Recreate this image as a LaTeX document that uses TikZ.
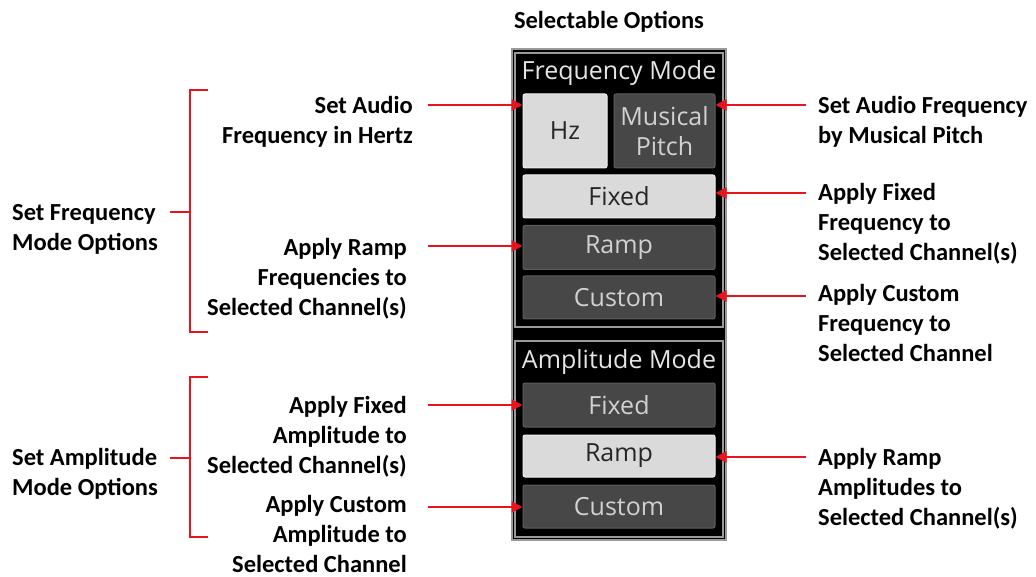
\documentclass[tikz,border=0pt]{standalone}
\usepackage{fontspec}
\setmainfont{Carlito}
\newfontfamily\uifont{Open Sans}
\usetikzlibrary{arrows.meta}
\definecolor{callred}{HTML}{E8141C}
\definecolor{btndark}{HTML}{474747}
\definecolor{btndarkedge}{HTML}{5E5E5E}
\definecolor{btnlight}{HTML}{DADADA}
\definecolor{btnlightedge}{HTML}{EEEEEE}
\definecolor{frameline}{HTML}{9A9A9A}
\newcommand{\fl}{\rule{0pt}{20pt}}
\begin{document}
\begin{tikzpicture}[x=1pt,y=-1pt,
  lbl/.style={font=\fontsize{24.5}{30}\selectfont\bfseries, inner sep=0pt},
  lblr/.style={lbl, align=right, anchor=north east},
  lbll/.style={lbl, align=left, anchor=north west},
  btn/.style={rounded corners=2pt, inner sep=0pt, font=\uifont\fontsize{25}{30}\selectfont, align=center, line width=1pt},
  lightbtn/.style={btn, draw=btnlightedge, fill=btnlight, text=black!85},
  darkbtn/.style={btn, draw=btndarkedge, fill=btndark, text=black!18},
  paneltitle/.style={font=\uifont\fontsize{25}{30}\selectfont, text=black!10, inner sep=0pt},
  arr/.style={draw=callred, line width=2pt, -{Triangle[length=11pt,width=11pt]}},
  brk/.style={draw=callred, line width=2pt},
]
\useasboundingbox (0,0) rectangle (1036,577);
\fill[white] (0,0) rectangle (1036,577);

% title
\node[lbl] (title) at (609,22) {Selectable Options};

% panel
\draw[fill=black, draw=frameline, line width=1.2pt] (512,49) rectangle (726,540);
\draw[draw=frameline, line width=1.2pt] (515,53) rectangle (723,327);
\draw[draw=frameline, line width=1.2pt] (515,341) rectangle (723,537);

\node[paneltitle] (ftitle) at (619,73) {Frequency Mode};
\node[lightbtn, minimum width=84pt, minimum height=74pt] (hz) at (565,131) {Hz};
\node[darkbtn, minimum width=101pt, minimum height=74pt] (pitch) at (664.5,131) {Musical\\Pitch};
\node[lightbtn, minimum width=192pt, minimum height=43pt] (ffixed) at (619,196.5) {Fixed};
\node[darkbtn, minimum width=192pt, minimum height=44pt] (framp) at (619,247.5) {Ramp};
\node[darkbtn, minimum width=192pt, minimum height=43pt] (fcustom) at (619,297.5) {Custom};

\node[paneltitle] (atitle) at (619,362) {Amplitude Mode};
\node[darkbtn, minimum width=192pt, minimum height=44pt] (afixed) at (619,405) {Fixed};
\node[lightbtn, minimum width=192pt, minimum height=42pt] (aramp) at (619,456) {Ramp};
\node[darkbtn, minimum width=192pt, minimum height=43pt] (acustom) at (619,506.5) {Custom};

% left labels
\node[lblr] (hzlbl) at (413,93) {\fl Set Audio\\Frequency in Hertz};
\node[lblr] (frlbl) at (407,235) {\fl Apply Ramp\\Frequencies to\\Selected Channel(s)};
\node[lblr] (aflbl) at (407,393) {\fl Apply Fixed\\Amplitude to\\Selected Channel(s)};
\node[lblr] (aclbl) at (407,492) {\fl Apply Custom\\Amplitude to\\Selected Channel};

% right labels
\node[lbll] (plbl) at (818,93) {\fl Set Audio Frequency\\by Musical Pitch};
\node[lbll] (fflbl) at (818,180) {\fl Apply Fixed\\Frequency to\\Selected Channel(s)};
\node[lbll] (fclbl) at (818,281) {\fl Apply Custom\\Frequency to\\Selected Channel};
\node[lbll] (arlbl) at (818,445) {\fl Apply Ramp\\Amplitudes to\\Selected Channel(s)};

% group labels
\node[lbll] (fmlbl) at (12,200) {\fl Set Frequency\\Mode Options};
\node[lbll] (amlbl) at (12,445) {\fl Set Amplitude\\Mode Options};

% arrow start points
\coordinate (s1) at (428,105);
\coordinate (s2) at (428,246);
\coordinate (s3) at (428,405);
\coordinate (s4) at (428,507);
\coordinate (r1) at (806,105);
\coordinate (r2) at (806,193);
\coordinate (r3) at (806,296);
\coordinate (r4) at (806,457);

\draw[arr] (s1) -- (s1 -| hz.west);
\draw[arr] (s2) -- (s2 -| framp.west);
\draw[arr] (s3) -- (s3 -| afixed.west);
\draw[arr] (s4) -- (s4 -| acustom.west);
\draw[arr] (r1) -- (r1 -| pitch.east);
\draw[arr] (r2) -- (r2 -| ffixed.east);
\draw[arr] (r3) -- (r3 -| fcustom.east);
\draw[arr] (r4) -- (r4 -| aramp.east);

% brackets
\coordinate (fbt) at (208,90);
\coordinate (fbb) at (208,332);
\coordinate (fbm) at (190,212);
\coordinate (fbd) at (170,212);
\draw[brk] (fbt) -- (190,90) -- (190,332) -- (fbb);
\draw[brk] (fbd) -- (fbm);

\coordinate (abt) at (208,377);
\coordinate (abb) at (208,537);
\coordinate (abm) at (190,458);
\coordinate (abd) at (170,458);
\draw[brk] (abt) -- (190,377) -- (190,537) -- (abb);
\draw[brk] (abd) -- (abm);
\end{tikzpicture}
\end{document}
